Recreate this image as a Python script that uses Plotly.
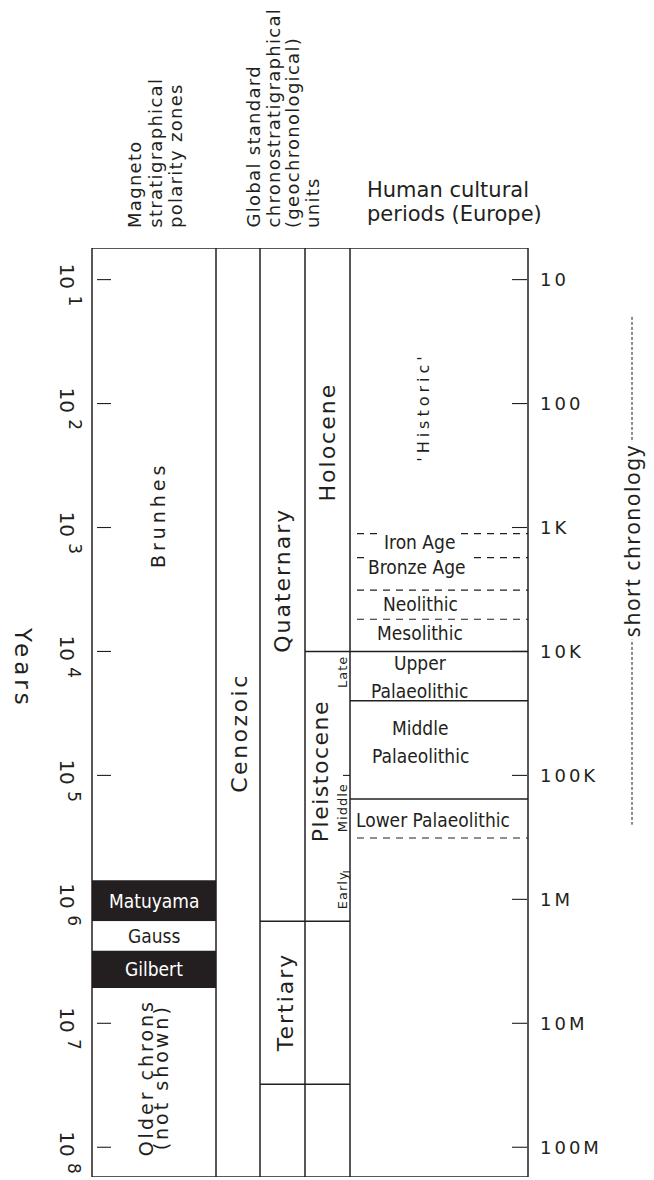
import numpy as np
import plotly.graph_objects as go

# ---------------- data (years before present) ----------------
decade_exponents = [1, 2, 3, 4, 5, 6, 7, 8]
decade_values = [10.0 ** e for e in decade_exponents]
right_scale_labels = ["10", "100", "1K", "10K", "100K", "1M", "10M", "100M"]

# magnetostratigraphic polarity chrons
chron_names = ["Matuyama", "Gauss", "Gilbert"]
chron_top = [7.0e5, 1.5e6, 2.6e6]
chron_base = [1.5e6, 2.6e6, 5.2e6]
chron_reversed = [True, False, True]

# chronostratigraphic boundaries
period_names = ["Quaternary", "Tertiary"]
period_base = [1.5e6, 3.1e7]
holocene_base = 1.0e4
pleistocene_parts = ["Late", "Middle", "Early"]
pleistocene_part_bounds = [1.0e5, 6.0e5]

# human cultural periods (Europe)
culture_solid_bounds = [1.0e4, 2.5e4, 1.55e5]
culture_dashed_bounds = [1.12e3, 1.75e3, 3.2e3, 5.5e3, 3.2e5]

short_chronology_span = [20.0, 2.5e5]

# ---------------- layout constants ----------------
W, H = 654, 1180
FRAME_TOP_PX, FRAME_BOT_PX = 248, 1177
LOG_TOP, LOG_BOT = 0.745, 8.24
Y_TOP, Y_BOT = 10 ** LOG_TOP, 10 ** LOG_BOT

X_LEFT, X_MAG, X_ERA, X_PER, X_EPO, X_RIGHT = 92, 216, 260, 305, 350, 528

INK = "#231f20"
LW = 1.5
SANS = "DejaVu Sans, Verdana, sans-serif"
NARROW = "Liberation Sans Narrow, DejaVu Sans Condensed, Arial Narrow, sans-serif"
HUMAN = "Noto Sans, Open Sans, sans-serif"

fig = go.Figure()


def seg(x0, x1, y0, y1, dash=None, width=LW, color=INK):
    fig.add_trace(go.Scatter(
        x=[x0, x1], y=[y0, y1], mode="lines",
        line=dict(color=color, width=width, dash=dash),
        hoverinfo="skip", showlegend=False))


def spaced(text, px, size):
    if not px:
        return text
    return f'<span style="letter-spacing:{px}px;font-size:{size}px">{text}</span>'


def label(text, x, yval=None, *, angle=0, size=16, family=SANS, color=INK,
          spacing=0, bg=None, xanchor="center", yanchor="middle",
          paper_px=None, yshift=0, xshift=0):
    kw = {}
    if paper_px is not None:
        kw.update(yref="paper", y=1, yshift=FRAME_TOP_PX - paper_px + yshift)
    else:
        kw.update(yref="y", y=np.log10(yval), yshift=yshift)
    fig.add_annotation(
        text=spaced(text, spacing, size), x=x, xref="x", xshift=xshift,
        textangle=angle, showarrow=False, xanchor=xanchor, yanchor=yanchor,
        font=dict(family=family, size=size, color=color),
        bgcolor=bg, borderpad=2 if bg else 0, **kw)


# ---- polarity chron blocks ----
for name, top, base, rev in zip(chron_names, chron_top, chron_base, chron_reversed):
    fig.add_trace(go.Scatter(
        x=[X_LEFT, X_MAG, X_MAG, X_LEFT, X_LEFT], y=[top, top, base, base, top],
        mode="lines", fill="toself", fillcolor=INK if rev else "white",
        line=dict(width=0, color=INK), hoverinfo="skip", showlegend=False))
    mid = 10 ** ((np.log10(top) + np.log10(base)) / 2)
    label(name, (X_LEFT + X_MAG) / 2, mid, size=19, family=NARROW,
          color="white" if rev else INK)

# ---- frame and column dividers ----
for xv in [X_LEFT, X_MAG, X_ERA, X_PER, X_EPO, X_RIGHT]:
    seg(xv, xv, Y_TOP, Y_BOT)
seg(X_LEFT, X_RIGHT, Y_TOP, Y_TOP)
seg(X_LEFT, X_RIGHT, Y_BOT, Y_BOT)

# ---- period / epoch boundaries ----
for b in period_base:
    seg(X_ERA, X_EPO, b, b)
seg(X_PER, X_RIGHT, holocene_base, holocene_base)
for b in pleistocene_part_bounds:
    seg(X_EPO - 7, X_EPO, b, b, width=1.1)

# ---- cultural boundaries ----
for b in culture_solid_bounds[1:]:
    seg(X_EPO, X_RIGHT, b, b)
for b in culture_dashed_bounds:
    seg(X_EPO + 7, X_RIGHT, b, b, dash="7px,6px", width=1.1)

# ---- scale ticks ----
for v in decade_values:
    seg(X_LEFT + 5, X_LEFT + 19, v, v, width=1.1)
    seg(X_RIGHT - 16, X_RIGHT - 1, v, v, width=1.1)

# ---- short chronology bar ----
seg(632, 632, short_chronology_span[0], short_chronology_span[1], dash="3px,2px", width=1)

# ---------------- text ----------------
# left scale: powers of ten, rotated
for e, v in zip(decade_exponents, decade_values):
    label(f'10 <sup><span style="font-size:17px">{e}</span></sup>', 70, v,
          angle=90, size=20, yshift=-5)
label("Years", 23.5, 10 ** 4.13, angle=90, size=23, spacing=4)

# right scale
for v, t in zip(decade_values, right_scale_labels):
    label(t, 539, v, size=18, spacing=3, xanchor="left")

# column headers
for i, line in enumerate(["Magneto", "stratigraphical", "polarity zones"]):
    label(line, 134 + 20.8 * i, angle=-90, size=18, spacing=1.3,
          yanchor="bottom", paper_px=229)
for i, line in enumerate(["Global standard", "chronostratigraphical",
                          "(geochronological)", "units"]):
    label(line, 252.5 + 20 * i, angle=-90, size=18, spacing=1.3,
          yanchor="bottom", paper_px=229)
for line, cy in zip(["Human cultural", "periods (Europe)"], [190, 214]):
    label(line, 366, size=21, xanchor="left", paper_px=cy)

# magnetostratigraphy column
label("Brunhes", 158, 10 ** 2.90, angle=-90, size=19, spacing=4)
label("Older chrons", 145.5, 10 ** 7.44, angle=-90, size=19, spacing=3)
label("(not shown)", 160.5, 10 ** 7.44, angle=-90, size=19, spacing=3)

# chronostratigraphic units
label("Cenozoic", 239.5, 10 ** 4.66, angle=-90, size=22, spacing=2.5)
label("Quaternary", 283, 10 ** 3.43, angle=-90, size=22, spacing=2)
label("Tertiary", 285, 10 ** 6.83, angle=-90, size=22, spacing=2)
label("Holocene", 327.5, 10 ** 2.31, angle=-90, size=22, spacing=2)
label("Pleistocene", 320.5, 10 ** 4.97, angle=-90, size=22, spacing=1.5)
for name, lg in zip(pleistocene_parts, [4.17, 5.26, 5.93]):
    label(name, 342.5, 10 ** lg, angle=-90, size=13, spacing=1)

# cultural periods
CS = 19
label("'Historic'", 423.5, 10 ** 2.03, angle=-90, size=16, spacing=4)
label("Iron Age", 419, 10 ** 3.115, size=CS, family=NARROW, bg="white")
label("Bronze Age", 417, 10 ** 3.32, size=CS, family=NARROW, bg="white")
label("Neolithic", 420, 10 ** 3.62, size=CS, family=NARROW)
label("Mesolithic", 420, 10 ** 3.85, size=CS, family=NARROW)
label("Upper", 420, 10 ** 4.09, size=CS, family=NARROW)
label("Palaeolithic", 419, 10 ** 4.32, size=CS, family=NARROW)
label("Middle", 420, 10 ** 4.62, size=CS, family=NARROW)
label("Palaeolithic", 420, 10 ** 4.84, size=CS, family=NARROW)
label("Lower Palaeolithic", 433, 10 ** 5.36, size=CS, family=NARROW)

label("short chronology", 632, 10 ** 3.11, angle=-90, size=21, family=HUMAN,
      spacing=1.5, bg="white")

fig.update_layout(
    width=W, height=H,
    margin=dict(l=0, r=0, t=FRAME_TOP_PX, b=H - FRAME_BOT_PX),
    paper_bgcolor="white", plot_bgcolor="white",
    xaxis=dict(range=[0, W], visible=False, fixedrange=True),
    yaxis=dict(type="log", range=[LOG_BOT, LOG_TOP], visible=False, fixedrange=True),
    showlegend=False,
)

fig.write_html("out.html")
